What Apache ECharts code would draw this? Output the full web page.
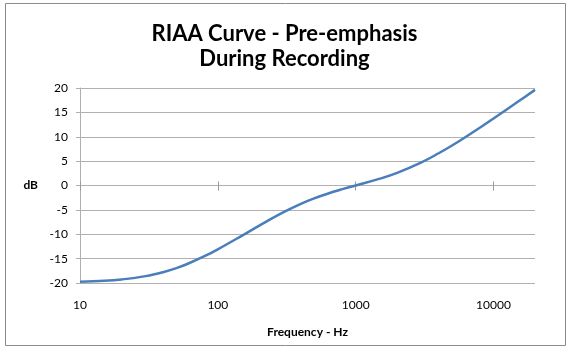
<!DOCTYPE html>
<html>
<head>
<meta charset="utf-8">
<script src="https://cdn.jsdelivr.net/npm/echarts@6/dist/echarts.min.js"></script>
<style>
html,body{margin:0;padding:0;background:#fff;}
#chart{width:569px;height:358px;}
</style>
</head>
<body>
<div id="chart"></div>
<script>
// Frequencies (Hz) and pre-emphasis gain (dB)
var freqs = [10, 15, 20, 30, 40, 50, 60, 80, 100, 150, 200, 300, 400, 500, 700, 800, 1000, 1500, 2000, 3000, 4000, 5000, 6000, 8000, 10000, 15000, 20000];
var gainDb = [-19.74, -19.55, -19.27, -18.59, -17.79, -16.95, -16.10, -14.51, -13.09, -10.27, -8.22, -5.48, -3.78, -2.65, -1.23, -0.75, 0, 1.40, 2.59, 4.74, 6.61, 8.21, 9.60, 11.89, 13.73, 17.16, 19.62];
var xTickLabels = [10, 100, 1000, 10000];
var yTicks = [-20, -15, -10, -5, 0, 5, 10, 15, 20];

var data = freqs.map(function (f, i) { return [f, gainDb[i]]; });
var font = 'Lato, "Liberation Sans", sans-serif';
var chart = echarts.init(document.getElementById('chart'), null, {renderer: 'canvas'});
var gridCol = '#b0b0b0';
var tickCol = '#9a9a9a';

var baseX = {
  type: 'log', logBase: 10, min: 10, max: 20000, gridIndex: 0,
  splitLine: {show: false}, minorTick: {show: false}, minorSplitLine: {show: false}
};

chart.setOption({
  animation: false,
  backgroundColor: '#fff',
  graphic: [{
    type: 'rect', shape: {x: 5.5, y: 3.5, width: 560, height: 342},
    style: {fill: 'none', stroke: '#8c8c8c', lineWidth: 1}, z: -1
  }],
  title: {
    text: 'RIAA Curve - Pre-emphasis\nDuring Recording',
    left: 'center', top: 16, itemGap: 0,
    textStyle: {fontFamily: font, fontWeight: 'bold', fontSize: 22, lineHeight: 25, color: '#000'}
  },
  grid: {left: 80, right: 34, top: 88, bottom: 75, containLabel: false},
  xAxis: [
    Object.assign({}, baseX, {
      position: 'bottom',
      axisLine: {show: true, onZero: true, onZeroAxisIndex: 0, lineStyle: {color: gridCol}},
      axisTick: {show: true, inside: false, length: 5, customValues: xTickLabels, lineStyle: {color: tickCol, width: 1}},
      axisLabel: {show: false}
    }),
    Object.assign({}, baseX, {
      position: 'top',
      axisLine: {show: true, onZero: true, onZeroAxisIndex: 0, lineStyle: {color: gridCol}},
      axisTick: {show: true, inside: false, length: 4, customValues: xTickLabels, lineStyle: {color: tickCol, width: 1}},
      axisLabel: {show: false}
    }),
    Object.assign({}, baseX, {
      position: 'bottom',
      axisLine: {show: false, onZero: false},
      axisTick: {show: false},
      axisLabel: {
        show: true, margin: 16, color: '#000', fontFamily: font, fontSize: 12,
        formatter: function (v) { return xTickLabels.indexOf(Math.round(v)) >= 0 ? String(Math.round(v)) : ''; }
      },
      name: 'Frequency - Hz', nameLocation: 'middle', nameGap: 43,
      nameTextStyle: {fontFamily: font, fontWeight: 'bold', fontSize: 12, color: '#000'}
    })
  ],
  yAxis: {
    type: 'value', min: yTicks[0], max: yTicks[yTicks.length - 1], interval: 5,
    axisLine: {show: true, onZero: false, lineStyle: {color: gridCol}},
    axisTick: {show: true, length: 4, lineStyle: {color: gridCol}},
    axisLabel: {color: '#000', fontFamily: font, fontSize: 12, margin: 12},
    splitLine: {show: true, lineStyle: {color: gridCol, width: 1}},
    name: 'dB', nameLocation: 'middle', nameGap: 42, nameRotate: 0,
    nameTextStyle: {fontFamily: font, fontWeight: 'bold', fontSize: 12, color: '#000'}
  },
  series: [{
    type: 'line', data: data, xAxisIndex: 0, smooth: 0.4, showSymbol: false,
    lineStyle: {color: '#4a7ebb', width: 2.5}, z: 5
  }]
});
</script>
</body>
</html>
